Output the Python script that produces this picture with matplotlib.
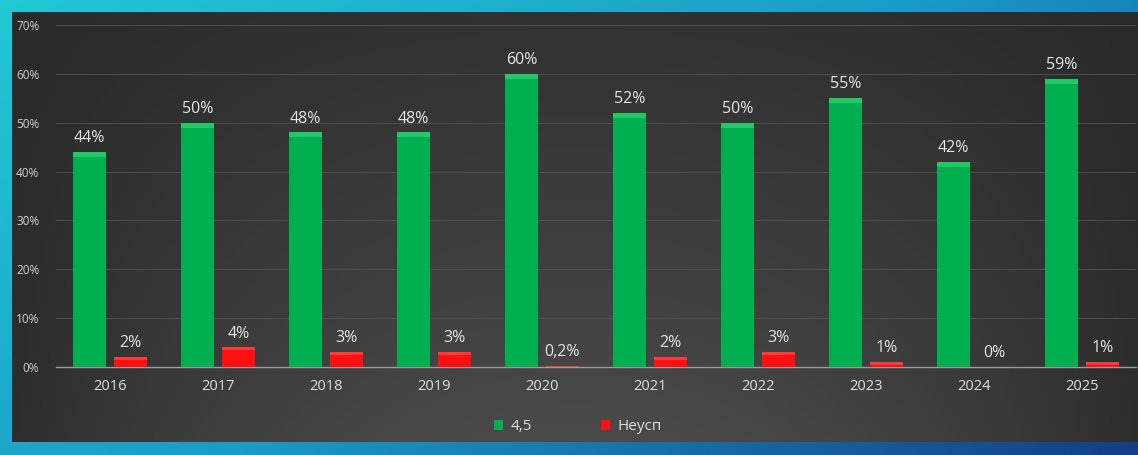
import numpy as np
import matplotlib
matplotlib.use("Agg")
import matplotlib.pyplot as plt
from matplotlib.colors import LinearSegmentedColormap

plt.rcParams['font.family'] = ['Open Sans', 'DejaVu Sans']

years = ['2016', '2017', '2018', '2019', '2020', '2021', '2022', '2023', '2024', '2025']
good = [44, 50, 48, 48, 60, 52, 50, 55, 42, 59]
fail = [2, 4, 3, 3, 0.2, 2, 3, 1, 0, 1]
good_labels = ['44%', '50%', '48%', '48%', '60%', '52%', '50%', '55%', '42%', '59%']
fail_labels = ['2%', '4%', '3%', '3%', '0,2%', '2%', '3%', '1%', '0%', '1%']
yticks = [0, 10, 20, 30, 40, 50, 60, 70]
series_names = ['4,5', 'Неусп']

W, H = 1138, 455
fig = plt.figure(figsize=(W / 100, H / 100), dpi=100)

# frame background (cyan -> blue)
bg = fig.add_axes([0, 0, 1, 1], zorder=-10)
bg.set_axis_off()
xx = np.linspace(0, 1, 200)
yy = np.linspace(0, 1, 100)
X, Y = np.meshgrid(xx, yy)
frame = X * 0.75 + Y * 0.45
cmap_frame = LinearSegmentedColormap.from_list('f', ['#22c8d4', '#1a9cc8', '#123f88'])
bg.imshow(frame, cmap=cmap_frame, aspect='auto', extent=[0, 1, 0, 1], origin='upper')
bg.set_xlim(0, 1)
bg.set_ylim(0, 1)

# dark panel
px0, py0, px1, py1 = 12 / W, 1 - 442 / H, 1.0, 1 - 12 / H
panel = fig.add_axes([px0, py0, px1 - px0, py1 - py0], zorder=-9)
panel.set_axis_off()
xx = np.linspace(-1, 1, 300)
yy = np.linspace(0, 1, 150)
X, Y = np.meshgrid(xx, yy)
val = np.clip(1 - (X ** 2) * 0.85, 0, 1) * (1 - 0.75 * Y)
cmap_panel = LinearSegmentedColormap.from_list('p', ['#2a2a2a', '#4a4a4a'])
panel.imshow(val, cmap=cmap_panel, aspect='auto', extent=[0, 1, 0, 1], origin='lower')

# main axes
ax = fig.add_axes([56 / W, 1 - 367 / H, (1136 - 56) / W, (367 - 25) / H])
ax.patch.set_alpha(0)
x = np.arange(len(years))
bw = 0.305
gap = 0.074
off = (bw + gap) / 2
green = '#00b050'
red = '#ff1010'
b1 = ax.bar(x - off, good, bw, color=green, zorder=3, label=series_names[0])
b2 = ax.bar(x + off, fail, bw, color=red, zorder=3, label=series_names[1])
# subtle bevel highlight on bar tops
ax.bar(x - off, [min(v, 1.0) for v in good], bw,
       bottom=[v - min(v, 1.0) for v in good], color='#22c865', zorder=4)
ax.bar(x + off, [min(v, 0.5) for v in fail], bw,
       bottom=[v - min(v, 0.5) for v in fail], color='#ff3a3a', zorder=4)

for xi, v, lab in zip(x, good, good_labels):
    ax.text(xi - off, v + 1.2, lab, ha='center', va='bottom', color='#e6e6e6', fontsize=11.5)
for xi, v, lab in zip(x, fail, fail_labels):
    ax.text(xi + off, v + 1.2, lab, ha='center', va='bottom', color='#e6e6e6', fontsize=11.5)

ax.set_xlim(-0.5, len(years) - 0.5)
ax.set_ylim(0, 70)
ax.set_yticks(yticks)
ax.set_yticklabels([f'{t}%' for t in yticks], fontsize=8.5, color='#d0d0d0')
ax.set_xticks(x)
ax.set_xticklabels(years, fontsize=10.5, color='#e0e0e0')
ax.tick_params(axis='both', length=0)
ax.tick_params(axis='y', pad=12)
ax.tick_params(axis='x', pad=9)
ax.grid(axis='y', color='#4e4e4e', linewidth=0.7, zorder=0)
ax.set_axisbelow(True)
for s in ['top', 'right', 'left']:
    ax.spines[s].set_visible(False)
ax.spines['bottom'].set_color('#9a9a9a')
ax.spines['bottom'].set_linewidth(1.0)

leg = fig.legend(handles=[b1, b2], labels=series_names, loc='center',
                 bbox_to_anchor=(578 / W, 1 - 427 / H), ncol=2, frameon=False,
                 fontsize=11, handlelength=0.6, handleheight=0.6, columnspacing=4.5,
                 handletextpad=0.5, labelcolor='#e0e0e0')

fig.savefig('out.png', dpi=100)
